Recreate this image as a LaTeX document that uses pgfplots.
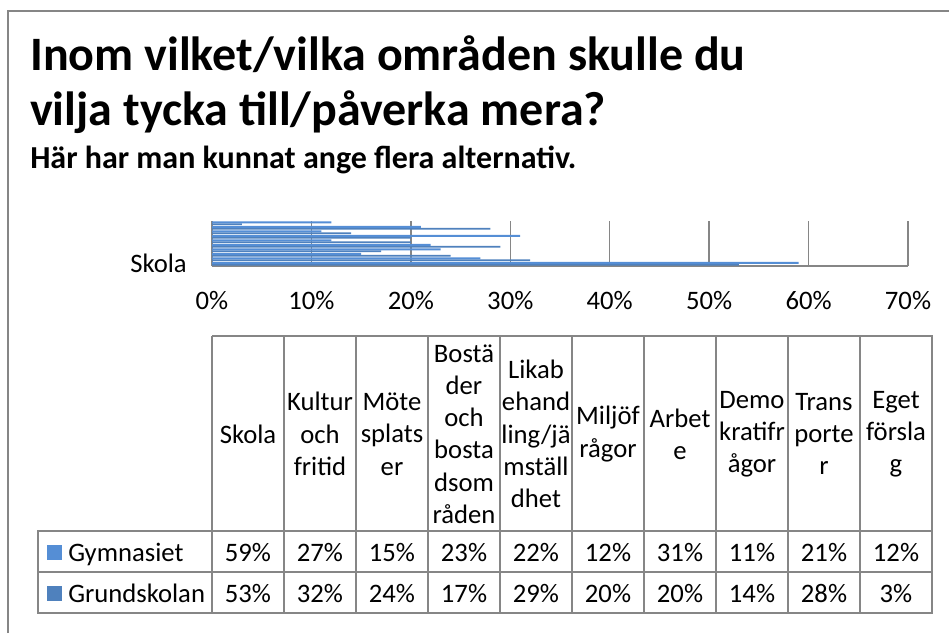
\documentclass[border=0pt]{standalone}
\usepackage{fontspec}
\setmainfont{Carlito}
\usepackage{pgfplots}
\pgfplotsset{compat=1.18}
\definecolor{gym}{RGB}{85,142,213}
\definecolor{grund}{RGB}{79,129,189}
\definecolor{lin}{RGB}{134,134,134}
\newcommand\tfont{\fontsize{20pt}{24.2pt}\selectfont}

\begin{document}
\begin{tikzpicture}
\begin{scope}[x=0.75pt,y=-0.75pt]
\path[use as bounding box] (0,0) rectangle (949,633);
\draw[lin, line width=1.2pt] (8,633) -- (8,11) -- (949,11);
\node[anchor=base west, inner sep=0, font=\fontsize{36pt}{42pt}\selectfont\bfseries] at (30,70) {Inom vilket/vilka områden skulle du};
\node[anchor=base west, inner sep=0, font=\fontsize{36pt}{42pt}\selectfont\bfseries] at (30,125) {vilja tycka till/påverka mera?};
\node[anchor=base west, inner sep=0, font=\fontsize{24pt}{28pt}\selectfont\bfseries] at (30,168) {Här har man kunnat ange flera alternativ.};
% table grid
\draw[lin, line width=1.1pt] (212,336) -- (932,336) -- (932,613) -- (38,613) -- (38,531) -- (932,531);
\draw[lin, line width=1.1pt] (38,572) -- (932,572);
\foreach \k in {0,...,9} {\draw[lin, line width=1.1pt] ({212+72*\k},336) -- ({212+72*\k},613);}
% header
\foreach \t [count=\i from 0] in {Skola, {Kultur\\och\\fritid}, {Möte\\splats\\er}, {Bostä\\der\\och\\bosta\\dsom\\råden}, {Likab\\ehand\\ling/jä\\mställ\\dhet}, {Miljöf\\rågor}, {Arbet\\e}, {Demo\\kratifr\\ågor}, {Trans\\porte\\r}, {Eget\\försla\\g}}
  {\node[align=center, font=\tfont, inner sep=0] at ({248+72*\i},434) {\t};}
% rows
\fill[gym] (47,544.5) rectangle (62,559.5);
\fill[grund] (47,585.5) rectangle (62,600.5);
\node[anchor=base west, inner sep=0, font=\tfont] at (68,561) {Gymnasiet};
\node[anchor=base west, inner sep=0, font=\tfont] at (68,602) {Grundskolan};
\foreach \v [count=\i from 0] in {59,27,15,23,22,12,31,11,21,12}
  {\node[anchor=base, font=\tfont, inner sep=0] at ({248+72*\i},561) {\v\%};}
\foreach \v [count=\i from 0] in {53,32,24,17,29,20,20,14,28,3}
  {\node[anchor=base, font=\tfont, inner sep=0] at ({248+72*\i},602) {\v\%};}
\end{scope}
\begin{axis}[
  at={(159pt,-199.5pt)}, anchor=south west,
  scale only axis, width=522pt, height=33.75pt,
  xbar, bar width=0.4,
  xmin=0, xmax=70, ymin=-0.5, ymax=9.5,
  xtick={0,10,...,70},
  xticklabel={\pgfmathprintnumber{\tick}\%},
  ytick={0}, yticklabels={Skola},
  axis x line*=bottom, axis y line*=left,
  axis line style={lin, line width=1.5pt, -},
  xmajorgrids, grid style={lin, line width=1pt},
  major tick length=0pt,
  tick label style={font=\tfont},
  /pgf/number format/assume math mode=true,
  xticklabel style={anchor=base, yshift=-32.25pt, inner sep=0pt},
  yticklabel style={anchor=east, xshift=-18.75pt, inner sep=0pt},
]
\addplot[fill=grund, draw=none, bar shift=-0.2] coordinates {(53,0) (32,1) (24,2) (17,3) (29,4) (20,5) (20,6) (14,7) (28,8) (3,9)};
\addplot[fill=gym, draw=none, bar shift=0.2] coordinates {(59,0) (27,1) (15,2) (23,3) (22,4) (12,5) (31,6) (11,7) (21,8) (12,9)};
\end{axis}
\end{tikzpicture}
\end{document}
